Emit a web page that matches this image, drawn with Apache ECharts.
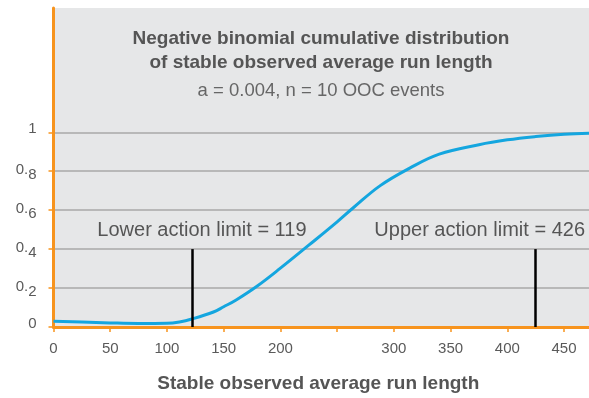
<!DOCTYPE html>
<html>
<head>
<meta charset="utf-8">
<script src="https://cdn.jsdelivr.net/npm/echarts@6/dist/echarts.min.js"></script>
<style>html,body{margin:0;padding:0;background:#fff}#c{width:589px;height:398px}</style>
</head>
<body>
<div id="c"></div>
<script>
// ---- data ----
var runLength = [0, 25, 50, 75, 100, 111, 122, 141, 150, 161, 179, 200, 225, 250, 264, 288, 314, 340, 375, 400, 425, 450, 472];
var probability = [0.029, 0.026, 0.021, 0.018, 0.019, 0.026, 0.041, 0.077, 0.104, 0.139, 0.208, 0.302, 0.42, 0.54, 0.611, 0.726, 0.816, 0.888, 0.936, 0.961, 0.978, 0.99, 0.995];
var xTicks = [0, 50, 100, 150, 200, 250, 300, 350, 400, 450];
var xHiddenLabels = [250];
var yTicks = [0, 0.2, 0.4, 0.6, 0.8, 1];
var limitPositions = [122, 425];
var limitHeight = 0.4;
var limitLabels = ['Lower action limit = 119', 'Upper action limit = 426'];
var titleLines = ['Negative binomial cumulative distribution', 'of stable observed average run length'];
var subtitle = 'a = 0.004, n = 10 OOC events';
var xName = 'Stable observed average run length';

var ORANGE = '#f7941e';
var GRID = '#a9a9a9';
var FONT = '"Liberation Sans", Arial, sans-serif';

var chart = echarts.init(document.getElementById('c'), null, {renderer: 'canvas'});

var markData = limitPositions.map(function (x, i) {
  return [
    {coord: [x, 0], label: {formatter: limitLabels[i], offset: [i === 0 ? 10 : -56, -4]}},
    {coord: [x, limitHeight]}
  ];
});

var option = {
  animation: false,
  backgroundColor: '#ffffff',
  grid: {left: 53.5, right: 0, top: 8, bottom: 69, show: true, backgroundColor: '#e6e7e8', borderWidth: 0},
  graphic: [
    {type: 'text', x: 321, y: 51, style: {text: titleLines.join('\n'), font: 'bold 19px ' + FONT, fill: '#555555', textAlign: 'center', textVerticalAlign: 'middle', lineHeight: 24}},
    {type: 'text', x: 321, y: 91, style: {text: subtitle, font: '18.5px ' + FONT, fill: '#666666', textAlign: 'center', textVerticalAlign: 'middle'}}
  ],
  xAxis: {
    type: 'value', min: 0, max: 472, interval: 50,
    name: xName, nameLocation: 'middle', nameGap: 47,
    nameTextStyle: {fontFamily: FONT, fontWeight: 'bold', fontSize: 19, color: '#555555', padding: [0, 6, 0, 0]},
    axisLine: {show: true, onZero: false, lineStyle: {color: ORANGE, width: 3}},
    axisTick: {show: true, length: 5, lineStyle: {color: ORANGE, width: 1.5}},
    axisLabel: {
      margin: 14, fontFamily: FONT, fontSize: 15, color: '#5a5a5a', showMaxLabel: false,
      formatter: function (v) { return xHiddenLabels.indexOf(v) >= 0 ? '' : String(v); }
    },
    splitLine: {show: false}
  },
  yAxis: {
    type: 'value', min: 0, max: 1.638, interval: 0.2,
    axisLine: {show: true, lineStyle: {color: ORANGE, width: 3}},
    axisTick: {show: true, length: 5, customValues: yTicks, lineStyle: {color: ORANGE, width: 1.5}},
    axisLabel: {
      margin: 17, fontFamily: FONT, fontSize: 15, color: '#5a5a5a', customValues: yTicks,
      formatter: function (v) {
        if (v > 1.001) return '';
        if (v === 0 || v === 1) return '{c|' + v + '}';
        var s = v.toFixed(1);
        return '{a|0.}{b|' + s.charAt(2) + '}';
      },
      rich: {
        a: {fontFamily: FONT, fontSize: 15, color: '#5a5a5a', padding: [0, 0, 3, 0]},
        b: {fontFamily: FONT, fontSize: 15, color: '#5a5a5a', padding: [8, 0, 0, 0]},
        c: {fontFamily: FONT, fontSize: 15, color: '#5a5a5a', padding: [0, 0, 6, 0]}
      }
    },
    splitLine: {show: true, lineStyle: {color: [GRID, GRID, GRID, GRID, GRID, GRID, 'rgba(0,0,0,0)', 'rgba(0,0,0,0)', 'rgba(0,0,0,0)'], width: 1.5}}
  },
  series: [{
    type: 'line',
    data: runLength.map(function (x, i) { return [x, probability[i]]; }),
    smooth: 0.4,
    showSymbol: false,
    lineStyle: {color: '#14a6df', width: 3},
    z: 3,
    markLine: {
      silent: true, symbol: ['none', 'none'],
      lineStyle: {color: '#000000', width: 2.5, type: 'solid'},
      label: {show: true, position: 'end', fontFamily: FONT, fontSize: 20, color: '#555555'},
      data: markData
    }
  }]
};
chart.setOption(option);
</script>
</body>
</html>
